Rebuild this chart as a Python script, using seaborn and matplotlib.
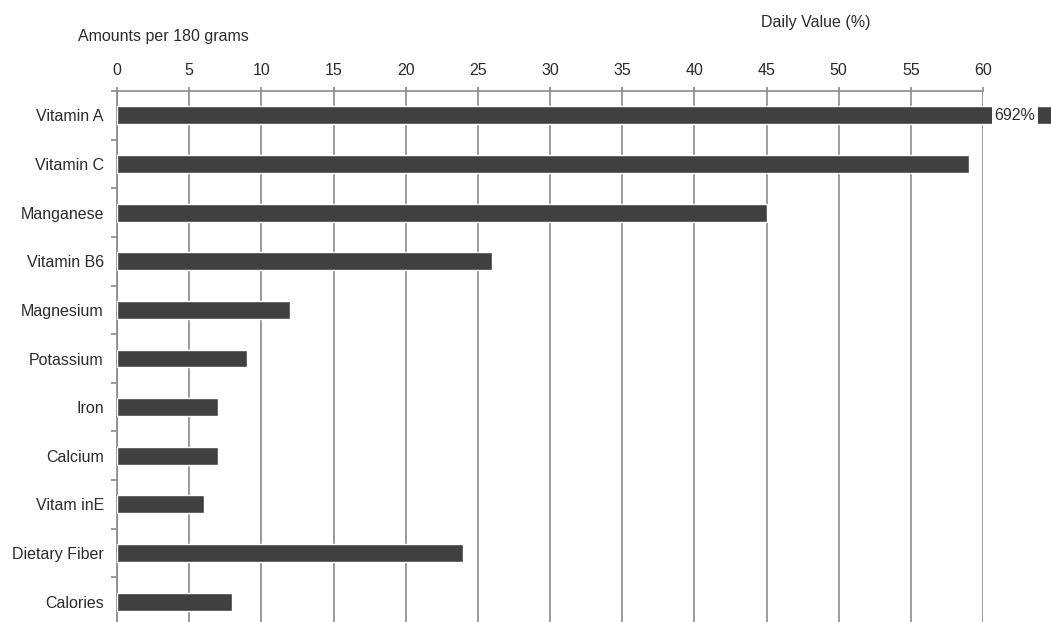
import matplotlib
matplotlib.use("Agg")
import matplotlib.pyplot as plt
from matplotlib.path import Path
from matplotlib.ticker import FixedLocator
import numpy as np
import pandas as pd
import seaborn as sns

nutrients = ["Vitamin A", "Vitamin C", "Manganese", "Vitamin B6", "Magnesium",
             "Potassium", "Iron", "Calcium", "Vitam inE", "Dietary Fiber", "Calories"]
daily_value = [692, 59, 45, 26, 12, 9, 7, 7, 6, 24, 8]
x_ticks = list(range(0, 61, 5))

df = pd.DataFrame({"nutrient": nutrients, "dv": daily_value})

sns.set_theme(style="white")
plt.rcParams["font.family"] = ["Liberation Sans", "DejaVu Sans"]

text_color = "#2b2b2b"
grid_color = "#8a8a8a"
bar_color = "#404040"
fs = 11.5

fig = plt.figure(figsize=(10.51, 6.22), dpi=100)
ax = fig.add_axes([117 / 1051, -4 / 622, 866 / 1051, 535 / 622])

sns.barplot(data=df, y="nutrient", x="dv", orient="h", color=bar_color,
            width=0.37, saturation=1, ax=ax, zorder=3)

ax.set_xlim(0, 60)
ax.set_ylim(len(nutrients) - 0.5, -0.5)

# Axis on top, ticks every 5
ax.xaxis.set_ticks_position("top")
ax.xaxis.set_label_position("top")
ax.set_xticks(x_ticks)
ax.set_xticklabels([str(t) for t in x_ticks])
ax.tick_params(axis="x", which="major", direction="out", length=3, width=1.2,
               color=grid_color, pad=6.4, labelsize=fs, labelcolor=text_color)

# Category labels without major ticks, small marks between categories
ax.tick_params(axis="y", which="major", length=0, pad=9.5, labelsize=fs,
               labelcolor=text_color)
ax.yaxis.set_minor_locator(FixedLocator(np.arange(-0.5, len(nutrients), 1.0)))
ax.tick_params(axis="y", which="minor", direction="out", length=4, width=1.2,
               color=grid_color, left=True)

ax.set_xlabel("")
ax.set_ylabel("")

ax.grid(axis="x", color=grid_color, linewidth=1.2, zorder=0)
ax.set_axisbelow(True)
for side in ["right", "bottom"]:
    ax.spines[side].set_visible(False)
for side in ["top", "left"]:
    ax.spines[side].set_color(grid_color)
    ax.spines[side].set_linewidth(1.2)

# The off-scale bar is shown through a break: a piece up to the axis end and a stub after its label
first = ax.patches[0]
windows = Path.make_compound_path(
    Path([(0, -0.5), (60.65, -0.5), (60.65, 0.5), (0, 0.5), (0, -0.5)], closed=True),
    Path([(63.8, -0.5), (70, -0.5), (70, 0.5), (63.8, 0.5), (63.8, -0.5)], closed=True),
)
first.set_clip_path(windows, transform=ax.transData)
first.set_clip_box(None)

ax.text(60.75, 0, f"{daily_value[0]}%", ha="left", va="center", fontsize=fs,
        color=text_color, clip_on=False)

fig.text(163 / 1051, 1 - 41 / 622, "Amounts per 180 grams", ha="center", va="baseline",
         fontsize=fs, color=text_color)
fig.text(816 / 1051, 1 - 27 / 622, "Daily Value (%)", ha="center", va="baseline",
         fontsize=fs, color=text_color)

fig.savefig("out.png", dpi=100)
